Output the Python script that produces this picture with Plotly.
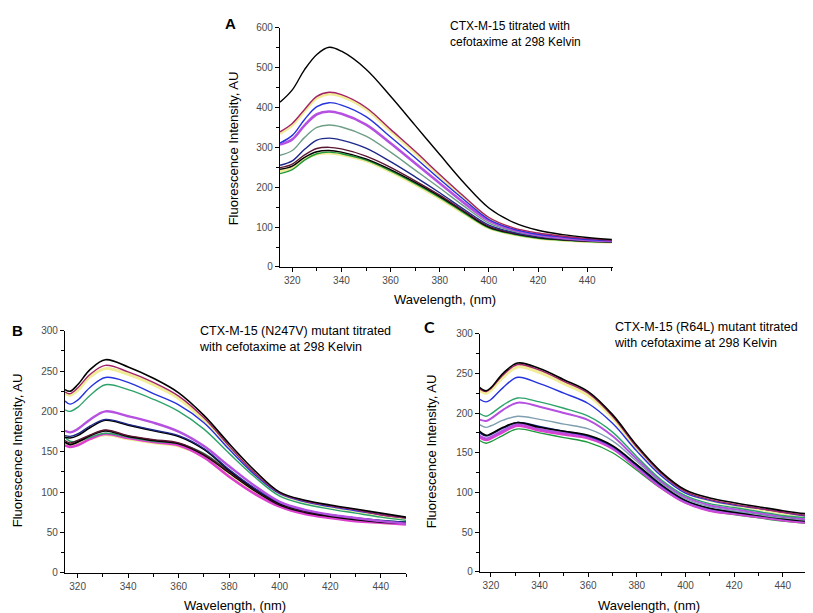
import plotly.graph_objects as go

# ---------------- data ----------------
WL_A = [315, 320, 325, 330, 335, 340, 350, 360, 370, 380, 390, 400, 410, 420, 430, 440, 450]
A_black1 = [413, 444, 495, 533, 551, 541, 496, 428, 355, 282, 210, 148, 112, 92, 81, 74, 69]
A_crimson = [339, 360, 395, 428, 438, 432, 400, 345, 290, 232, 176, 124, 98, 85, 77, 71, 67]
A_yellow1 = [335, 356, 391, 424, 434, 428, 396, 341, 286, 228, 173, 122, 96, 83, 76, 70, 66]
A_blue = [311, 330, 370, 402, 412, 406, 377, 326, 274, 220, 168, 119, 95, 82, 75, 69, 66]
A_violet = [307, 320, 355, 383, 390, 384, 357, 310, 260, 210, 160, 116, 93, 80, 73, 68, 65]
A_greygreen = [280, 292, 325, 350, 356, 351, 328, 288, 243, 198, 152, 110, 90, 78, 71, 67, 65]
A_navy = [255, 266, 295, 318, 323, 318, 298, 264, 226, 186, 144, 105, 87, 76, 70, 66, 64]
A_maroon = [249, 258, 281, 297, 300, 296, 278, 250, 216, 180, 140, 102, 85, 75, 69, 65, 63]
A_black2 = [245, 253, 275, 289, 292, 288, 271, 244, 212, 177, 138, 100, 84, 74, 68, 65, 63]
A_green = [234, 244, 268, 284, 288, 284, 268, 241, 209, 174, 135, 98, 82, 72, 67, 64, 62]
A_yellow2 = [240, 248, 270, 283, 286, 282, 266, 239, 207, 172, 134, 98, 82, 72, 67, 64, 62]

WL_B = [315, 317, 320, 325, 331, 340, 350, 360, 370, 380, 390, 400, 410, 420, 430, 440, 450]
B_black1 = [227, 225, 233, 252, 264, 255, 241, 223, 195, 160, 127, 100, 90, 84, 79, 74, 69]
B_crimson = [224, 222, 229, 246, 257, 249, 236, 219, 192, 157, 124, 99, 89, 83, 78, 72, 68]
B_yellow1 = [222, 220, 226, 243, 253, 246, 233, 216, 189, 155, 122, 98, 88, 82, 77, 71, 67]
B_blue = [213, 209, 214, 230, 242, 236, 222, 208, 186, 153, 122, 98, 88, 82, 77, 72, 68]
B_green1 = [202, 200, 205, 220, 233, 227, 215, 200, 178, 148, 119, 95, 85, 79, 74, 69, 65]
B_violet = [176, 174, 178, 190, 200, 194, 186, 175, 157, 132, 108, 88, 78, 72, 68, 64, 61]
B_navy = [170, 169, 172, 182, 190, 184, 177, 170, 154, 128, 105, 87, 77, 72, 68, 65, 63]
B_black2 = [168, 167, 170, 180, 189, 183, 176, 169, 153, 127, 104, 86, 77, 71, 67, 64, 62]
B_maroon = [164, 161, 164, 171, 177, 170, 165, 161, 147, 125, 103, 85, 76, 71, 67, 64, 62]
B_black3 = [162, 159, 162, 170, 176, 169, 164, 160, 146, 124, 102, 84, 75, 70, 66, 63, 62]
B_green2 = [168, 163, 163, 168, 173, 168, 163, 160, 148, 126, 104, 86, 77, 72, 68, 65, 63]
B_yellow2 = [160, 158, 160, 166, 171, 166, 161, 157, 144, 121, 100, 83, 74, 69, 65, 62, 61]
B_magenta = [158, 156, 158, 166, 172, 167, 162, 158, 143, 119, 98, 82, 73, 68, 64, 62, 60]

WL_C = [315, 318, 320, 325, 331, 340, 350, 360, 370, 380, 390, 400, 410, 420, 430, 440, 450, 454.5]
C_black1 = [233, 228, 232, 250, 263, 256, 242, 227, 198, 159, 126, 103, 93, 87, 82, 77, 73, 72]
C_crimson = [231, 227, 231, 248, 261, 254, 240, 225, 196, 157, 124, 101, 91, 85, 80, 75, 71, 70]
C_yellow1 = [229, 225, 229, 245, 258, 251, 237, 222, 194, 155, 122, 100, 90, 84, 79, 74, 70, 69]
C_blue = [218, 214, 217, 232, 245, 237, 225, 212, 187, 152, 121, 99, 90, 84, 80, 75, 70, 69]
C_green1 = [200, 196, 199, 210, 219, 214, 206, 196, 176, 145, 116, 96, 86, 81, 76, 71, 68, 67]
C_violet = [192, 190, 193, 204, 213, 208, 200, 191, 171, 142, 114, 94, 84, 79, 74, 70, 66, 65]
C_greyblue = [186, 182, 184, 191, 196, 192, 186, 180, 165, 139, 112, 92, 82, 77, 72, 68, 65, 64]
C_black2 = [178, 172, 174, 182, 188, 182, 177, 172, 159, 135, 110, 90, 80, 75, 71, 67, 64, 63]
C_navy = [176, 171, 173, 181, 188, 183, 177, 171, 158, 134, 109, 90, 80, 76, 72, 68, 65, 64]
C_magenta = [172, 168, 170, 178, 186, 180, 175, 170, 156, 132, 107, 88, 78, 74, 70, 66, 63, 62]
C_pink = [170, 166, 168, 176, 184, 178, 173, 168, 155, 131, 106, 87, 77, 73, 69, 65, 62, 61]
C_green2 = [166, 162, 164, 172, 180, 175, 169, 163, 150, 128, 105, 87, 77, 72, 68, 64, 61, 60]

# ---------------- styling ----------------
COL = {
    "black": "#000000", "crimson": "#A3226A", "yellow": "#F0EC98", "blue": "#2433DD",
    "violet": "#B550E0", "greygreen": "#6E9E88", "navy": "#1E2888", "maroon": "#5A1530",
    "green": "#1E9A3C", "teal": "#2DA36A", "magenta": "#DD40CF", "greyblue": "#7F9EB0",
}

W, H = 813, 613

fig = go.Figure()

def add(x, y, color, ax, width=1.4):
    fig.add_trace(go.Scatter(x=x, y=y, mode="lines", xaxis="x" + ax, yaxis="y" + ax,
                             line=dict(color=color, width=width, shape="spline", smoothing=1.0),
                             showlegend=False, hoverinfo="skip"))

# Panel A (yellow drawn first, as halos)
add(WL_A, A_yellow1, COL["yellow"], "", 3)
add(WL_A, A_yellow2, COL["yellow"], "", 3)
add(WL_A, A_green, COL["green"], "")
add(WL_A, A_black2, COL["black"], "")
add(WL_A, A_maroon, COL["maroon"], "")
add(WL_A, A_navy, COL["navy"], "")
add(WL_A, A_greygreen, COL["greygreen"], "")
add(WL_A, A_violet, COL["violet"], "", 2.6)
add(WL_A, A_blue, COL["blue"], "")
add(WL_A, A_crimson, COL["crimson"], "")
add(WL_A, A_black1, COL["black"], "")

# Panel B
add(WL_B, B_yellow1, COL["yellow"], "2", 3)
add(WL_B, B_yellow2, COL["yellow"], "2", 3)
add(WL_B, B_magenta, COL["magenta"], "2", 2.6)
add(WL_B, B_green2, COL["teal"], "2")
add(WL_B, B_black3, COL["black"], "2", 1.8)
add(WL_B, B_maroon, COL["maroon"], "2")
add(WL_B, B_black2, COL["black"], "2", 1.6)
add(WL_B, B_navy, COL["navy"], "2")
add(WL_B, B_violet, COL["violet"], "2", 2.4)
add(WL_B, B_green1, COL["teal"], "2")
add(WL_B, B_blue, COL["blue"], "2")
add(WL_B, B_crimson, COL["crimson"], "2")
add(WL_B, B_black1, COL["black"], "2", 1.6)

# Panel C
add(WL_C, C_yellow1, COL["yellow"], "3", 3)
add(WL_C, C_green2, COL["green"], "3")
add(WL_C, C_pink, COL["magenta"], "3", 2.4)
add(WL_C, C_magenta, COL["violet"], "3", 2)
add(WL_C, C_navy, COL["navy"], "3", 1.6)
add(WL_C, C_black2, COL["black"], "3", 1.6)
add(WL_C, C_greyblue, COL["greyblue"], "3")
add(WL_C, C_violet, COL["violet"], "3", 2)
add(WL_C, C_green1, COL["teal"], "3")
add(WL_C, C_blue, COL["blue"], "3")
add(WL_C, C_crimson, COL["crimson"], "3")
add(WL_C, C_black1, COL["black"], "3", 1.6)

TICKFONT = dict(family="Liberation Sans, Arial, sans-serif", size=10, color="#4a4a4a")

def xax(px0, px1, rng, anchor):
    return dict(domain=[px0 / W, px1 / W], range=rng, anchor=anchor,
                showline=True, linecolor="black", linewidth=1.2, mirror=False,
                ticks="outside", ticklen=4, tickwidth=1, tickcolor="black",
                tick0=320, dtick=20, showgrid=False, zeroline=False, tickfont=TICKFONT,
                minor=dict(ticks="outside", ticklen=3, tickwidth=1, tickcolor="black", dtick=10, tick0=310, showgrid=False))

def yax(py_top, py_bot, rng, dtick, anchor):
    return dict(domain=[1 - py_bot / H, 1 - py_top / H], range=rng, anchor=anchor,
                showline=True, linecolor="black", linewidth=1.2, mirror=False,
                ticks="outside", ticklen=4, tickwidth=1, tickcolor="black",
                tick0=0, dtick=dtick, showgrid=False, zeroline=False, tickfont=TICKFONT,
                minor=dict(ticks="outside", ticklen=3, tickwidth=1, tickcolor="black", dtick=dtick / 2, showgrid=False))

annotations = []
def txt(px, py, text, size=13, rot=0, family="Liberation Sans, Arial, sans-serif", xanchor="center", align="center"):
    annotations.append(dict(x=px / W, y=1 - py / H, xref="paper", yref="paper", text=text,
                            showarrow=False, textangle=rot, xanchor=xanchor, yanchor="middle", align=align,
                            font=dict(family=family, size=size, color="black")))

# panel letters
txt(222, 10, "<b>A</b>", size=15)
txt(9, 323, "<b>B</b>", size=15)
txt(421, 319, "<b>C</b>", size=16, family="Lato, Open Sans, sans-serif")

# panel notes
txt(440, 20, "CTX-M-15 titrated with<br>cefotaxime at 298 Kelvin", size=12, xanchor="left", align="left")
txt(189, 331, "CTX-M-15 (N247V) mutant titrated<br>with cefotaxime at 298 Kelvin", size=12.5, xanchor="left", align="left")
txt(604, 327, "CTX-M-15 (R64L) mutant titrated<br>with cefotaxime at 298 Kelvin", size=12.5, xanchor="left", align="left")

# axis titles
txt(437, 291, "Wavelength, (nm)", size=13)
txt(227, 603, "Wavelength, (nm)", size=13)
txt(641, 603, "Wavelength, (nm)", size=13)
txt(225, 137, "Fluorescence Intensity, AU", size=13, rot=-90)
txt(9, 445, "Fluorescence Intensity, AU", size=13, rot=-90)
txt(423, 446, "Fluorescence Intensity, AU", size=13, rot=-90)

fig.update_layout(
    width=W, height=H, margin=dict(l=0, r=0, t=0, b=0),
    paper_bgcolor="white", plot_bgcolor="white", showlegend=False,
    xaxis=xax(272, 605, [315, 450.5], "y"),
    yaxis=yax(14, 258, [0, 600], 100, "x"),
    xaxis2=xax(57, 398, [315, 450], "y2"),
    yaxis2=yax(323, 570, [0, 300], 50, "x2"),
    xaxis3=xax(472, 810, [315.5, 454.5], "y3"),
    yaxis3=yax(326, 569, [0, 300], 50, "x3"),
    annotations=annotations,
)

fig.write_html("out.html")
